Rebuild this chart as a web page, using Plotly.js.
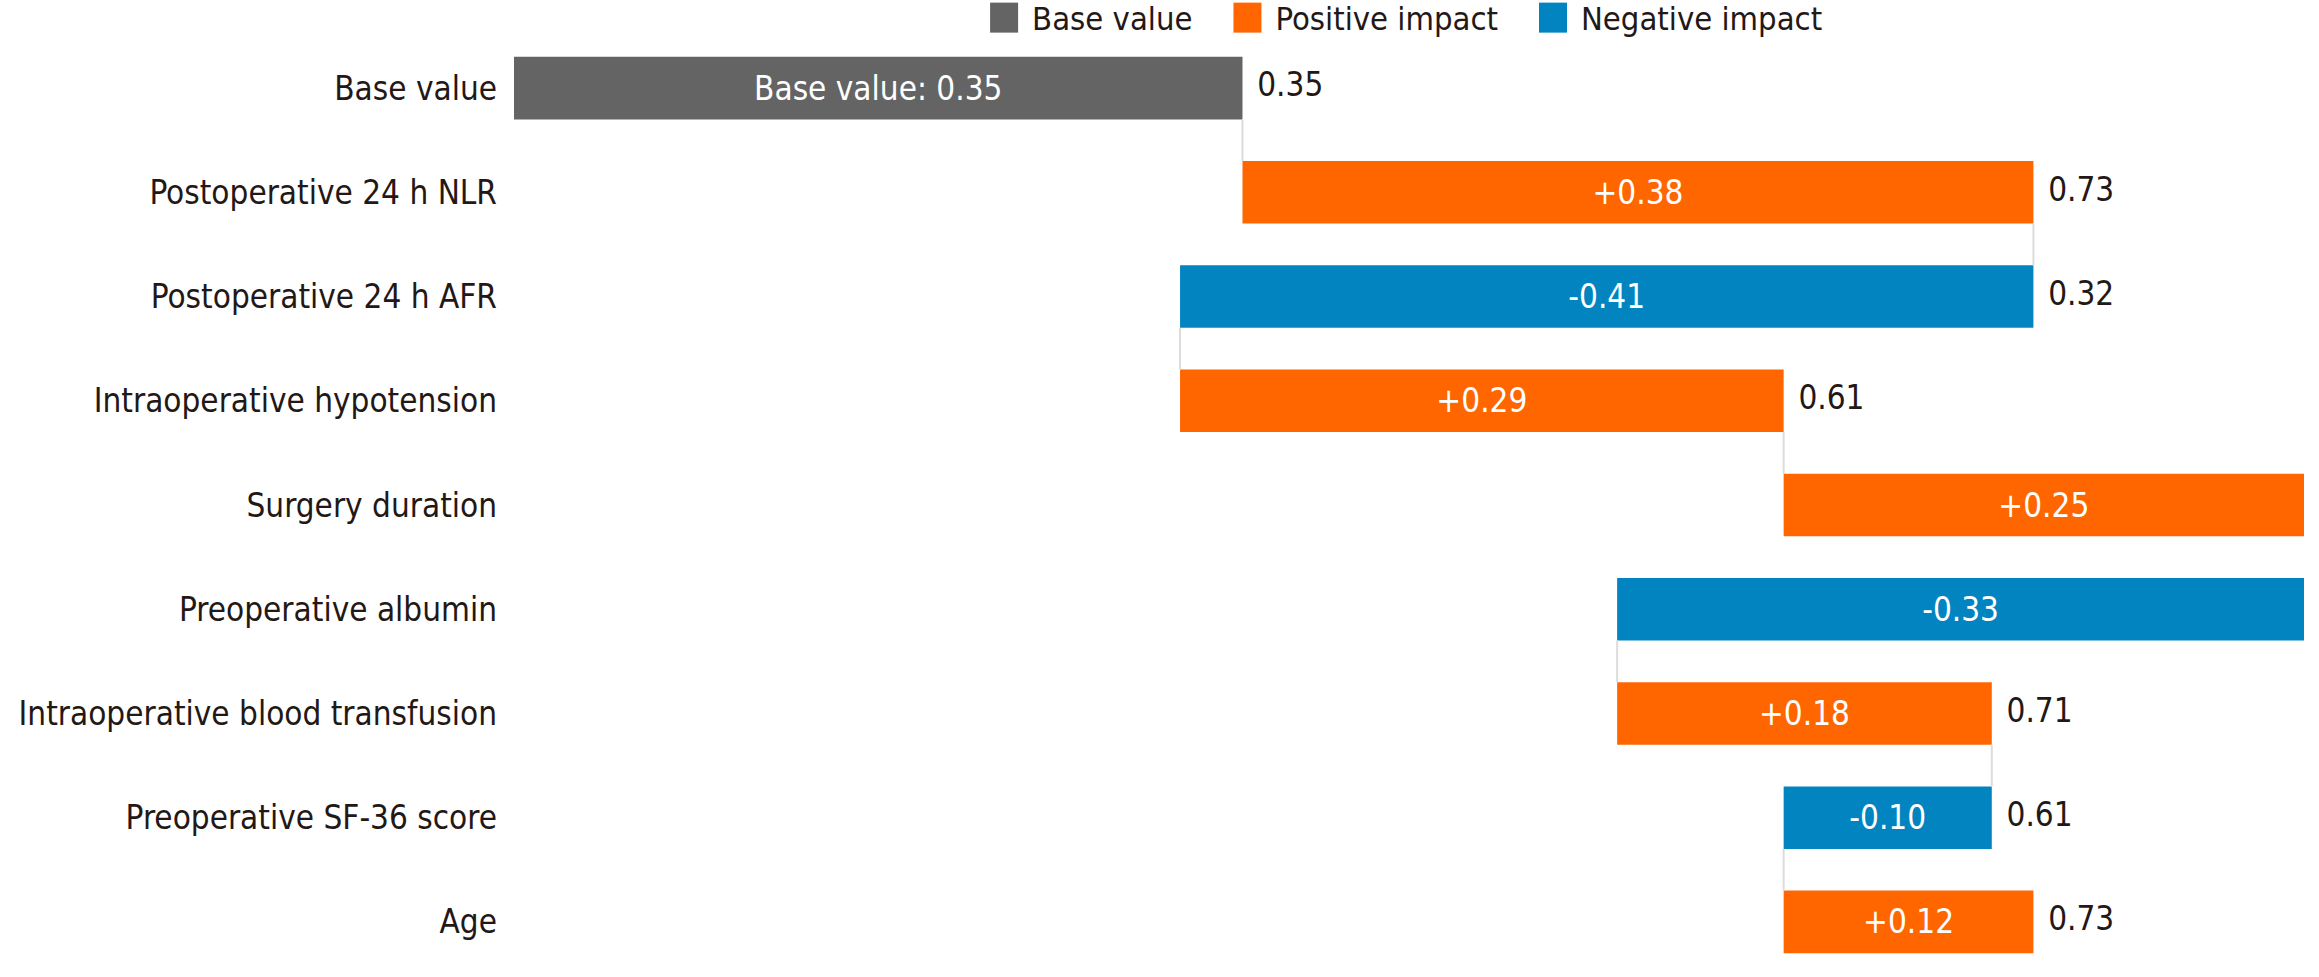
<!DOCTYPE html>
<html>
<head>
<meta charset="utf-8">
<script src="https://cdn.plot.ly/plotly-3.0.1.min.js"></script>
<style>
  html, body { margin: 0; padding: 0; background: #ffffff; }
  #chart { width: 2319px; height: 977px; }
</style>
</head>
<body>
<div id="chart"></div>
<script>
// ---- data ----
const features = [
  'Base value',
  'Postoperative 24 h NLR',
  'Postoperative 24 h AFR',
  'Intraoperative hypotension',
  'Surgery duration',
  'Preoperative albumin',
  'Intraoperative blood transfusion',
  'Preoperative SF-36 score',
  'Age'
];
const contributions = [0.35, 0.38, -0.41, 0.29, 0.25, -0.33, 0.18, -0.10, 0.12];
const seriesNames = ['Base value', 'Positive impact', 'Negative impact'];
const seriesColors = ['#646464', '#ff6600', '#0284c0'];

// ---- derived ----
const idx = features.map((_, i) => i);
const starts = [], ends = [];
let run = 0;
contributions.forEach((c, i) => {
  const s = i === 0 ? 0 : run;
  run = +(run + c).toFixed(4);
  starts.push(s); ends.push(run);
});
const xMax = Math.max(...ends);

function fontAvailable(name) {
  const ctx = document.createElement('canvas').getContext('2d');
  const probe = 'Intraoperative blood transfusion';
  ctx.font = '40px monospace';
  const a = ctx.measureText(probe).width;
  ctx.font = '40px "' + name + '", monospace';
  const b = ctx.measureText(probe).width;
  return Math.abs(a - b) > 0.5;
}
const useCond = fontAvailable('DejaVu Sans Condensed');
const FONT = useCond ? '"DejaVu Sans Condensed", DejaVu Sans, sans-serif' : 'DejaVu Sans, Verdana, sans-serif';
const FS = useCond ? 33 : 30;
const FSL = useCond ? 32.5 : 29.5;
const DARK = '#231815';

function barTrace(kind) {
  const ys = [], xs = [], bs = [], ts = [];
  contributions.forEach((c, i) => {
    const k = i === 0 ? 0 : (c >= 0 ? 1 : 2);
    if (k !== kind) return;
    ys.push(i); bs.push(starts[i]); xs.push(c);
    ts.push(i === 0 ? 'Base value: ' + c.toFixed(2) : (c >= 0 ? '+' : '') + c.toFixed(2));
  });
  return {
    type: 'bar', orientation: 'h', y: ys, x: xs, base: bs, width: 0.6,
    text: ts, textposition: 'inside', insidetextanchor: 'middle',
    constraintext: 'none', cliponaxis: true,
    textfont: { family: FONT, size: FS, color: '#ffffff' },
    marker: { color: seriesColors[kind], line: { width: 0 } },
    name: seriesNames[kind], showlegend: false, hoverinfo: 'skip'
  };
}

// connectors (those at the axis edge fall outside the plot, as in the original)
const cx = [], cy = [];
for (let i = 0; i < features.length - 1; i++) {
  if (ends[i] >= xMax) continue;
  cx.push(ends[i], ends[i], null);
  cy.push(i + 0.3, i + 0.7, null);
}

// running total labels, placed at the right end of each bar
const lx = [], ly = [], lt = [];
idx.forEach(i => {
  const p = Math.max(starts[i], ends[i]);
  if (p >= xMax) return;
  lx.push(p); ly.push(i); lt.push(ends[i].toFixed(2));
});

const data = [
  { type: 'scatter', mode: 'lines', x: cx, y: cy, line: { color: '#dcdcdc', width: 2 },
    showlegend: false, hoverinfo: 'skip' },
  barTrace(0), barTrace(1), barTrace(2),
  { type: 'scatter', mode: 'markers+text', y: ly, x: lx, text: lt,
    textposition: 'middle right',
    marker: { size: 22, color: 'rgba(0,0,0,0)' }, cliponaxis: false,
    textfont: { family: FONT, size: FS, color: DARK },
    showlegend: false, hoverinfo: 'skip' }
];
// legend-only entries
seriesNames.forEach((n, k) => {
  data.push({ type: 'bar', orientation: 'h', x: [null], y: [null], name: n,
    marker: { color: seriesColors[k] }, hoverinfo: 'skip' });
});

const LEG_ITEMW = 68;
const layout = {
  width: 2319, height: 977,
  margin: { l: 514, r: 15, t: 36, b: 3, pad: 0, autoexpand: false },
  paper_bgcolor: '#ffffff', plot_bgcolor: '#ffffff',
  barmode: 'overlay',
  font: { family: FONT, size: FS, color: DARK },
  xaxis: { range: [0, 0.86], visible: false, showgrid: false, zeroline: false, fixedrange: true },
  yaxis: {
    range: [8.5, -0.5], tickmode: 'array', tickvals: idx, ticktext: features,
    showgrid: false, zeroline: false, showline: false, ticks: '',
    ticklabelstandoff: 16, automargin: false,
    tickfont: { family: FONT, size: FS, color: DARK }
  },
  showlegend: true,
  legend: {
    orientation: 'h', x: 0.49, xanchor: 'center',
    yref: 'container', y: 1 - 18 / 977, yanchor: 'middle',
    font: { family: FONT, size: FSL, color: DARK }, bgcolor: 'rgba(0,0,0,0)',
    traceorder: 'normal', itemwidth: LEG_ITEMW
  }
};

Plotly.newPlot('chart', data, layout, { displayModeBar: false, staticPlot: true }).then(gd => {
  // legend colour swatches sized and placed as in the original (28 x 30, just left of the text)
  const r = LEG_ITEMW / 2 - 9, l = r - 28;
  gd.querySelectorAll('.legend .legendpoints path').forEach(p => {
    p.setAttribute('d', 'M' + r + ',15H' + l + 'V-15H' + r + 'Z');
  });
});
</script>
</body>
</html>
